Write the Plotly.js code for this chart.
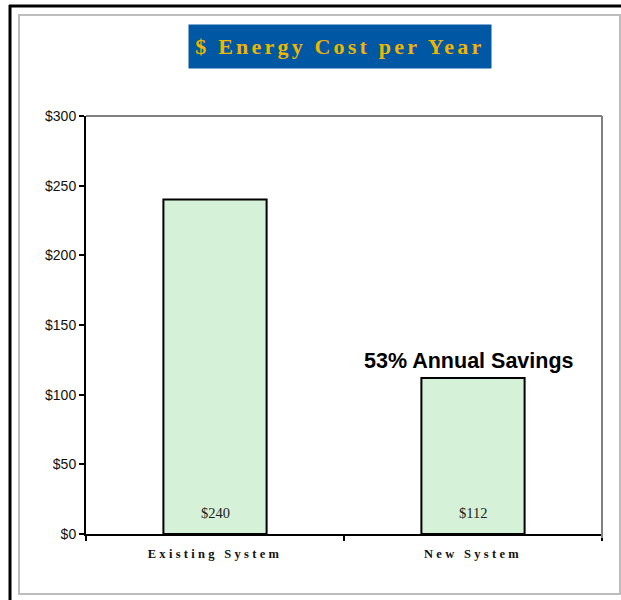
<!DOCTYPE html>
<html>
<head>
<meta charset="utf-8">
<script src="https://cdn.plot.ly/plotly-3.0.1.min.js"></script>
<style>
  html, body { margin: 0; padding: 0; background: #ffffff; }
  #chart { width: 621px; height: 600px; }
  .xtick text { letter-spacing: 3.3px; }
  g.annotation[data-index="0"] text { letter-spacing: 3.2px; }
</style>
</head>
<body>
<div id="chart"></div>
<script>
// ---- data ----
const categories = ["Existing System", "New System"];
const costs = [240, 112];
const barLabels = ["$240", "$112"];
const chartTitle = "$ Energy Cost per Year";
const savingsNote = "53% Annual Savings";
const yTickVals = [0, 50, 100, 150, 200, 250, 300];
const yTickText = ["$0", "$50", "$100", "$150", "$200", "$250", "$300"];

// ---- layout geometry (pixels) ----
const W = 621, H = 600;
const L = 86, R = 602, T = 116, B = 534;
const px = x => (x - L) / (R - L);
const py = y => (B - y) / (B - T);

const serif = "'Liberation Serif', 'Times New Roman', serif";
const sans = "'Liberation Sans', Arial, sans-serif";

const trace = {
  type: "bar",
  x: categories,
  y: costs,
  width: 0.4,
  marker: { color: "#d5f2d8", line: { color: "#000000", width: 2 } },
  hoverinfo: "skip",
  showlegend: false
};

const annotations = [
  {
    text: "<b>" + chartTitle + "</b>",
    xref: "paper", yref: "paper",
    x: px(340), y: py(46.5), xanchor: "center", yanchor: "middle",
    width: 300, height: 41, bgcolor: "#0058a4", borderpad: 1,
    showarrow: false,
    font: { family: serif, size: 22, color: "#efb500" }
  },
  {
    text: "<b>" + savingsNote + "</b>",
    xref: "x", yref: "y",
    x: categories[1], y: costs[1], xanchor: "center", yanchor: "middle",
    xshift: -4, yshift: 17,
    showarrow: false,
    font: { family: sans, size: 21.5, color: "#000000" }
  }
];
categories.forEach((c, i) => {
  annotations.push({
    text: barLabels[i],
    xref: "x", yref: "y",
    x: c, y: 0, xanchor: "center", yanchor: "middle",
    yshift: 21,
    showarrow: false,
    font: { family: serif, size: 14.5, color: "#222222" }
  });
});

const shapes = [
  // outer black frame (left and top)
  { type: "line", xref: "paper", yref: "paper", x0: px(10), x1: px(10), y0: py(5), y1: py(600), line: { color: "#000000", width: 3 } },
  { type: "line", xref: "paper", yref: "paper", x0: px(9), x1: px(621), y0: py(6), y1: py(6), line: { color: "#000000", width: 3 } },
  // light gray chart frame
  { type: "rect", xref: "paper", yref: "paper", x0: px(19), x1: px(620), y0: py(15), y1: py(594), line: { color: "#bdbdbd", width: 2 } },
  // plot area top / right border
  { type: "line", xref: "paper", yref: "paper", x0: px(86), x1: px(602), y0: 1, y1: 1, line: { color: "#808080", width: 2 }, layer: "above" },
  { type: "line", xref: "paper", yref: "paper", x0: 1, x1: 1, y0: py(538), y1: 1, line: { color: "#808080", width: 2 }, layer: "above" }
];

const layout = {
  width: W, height: H,
  margin: { l: L, r: W - R, t: T, b: H - B, pad: 0 },
  paper_bgcolor: "#ffffff",
  plot_bgcolor: "#ffffff",
  showlegend: false,
  bargap: 0.6,
  xaxis: {
    type: "category",
    showline: true, linecolor: "#000000", linewidth: 2,
    ticks: "outside", tickson: "boundaries", ticklen: 5, tickwidth: 2, tickcolor: "#000000",
    ticklabelstandoff: 7,
    showgrid: false, zeroline: false,
    tickfont: { family: serif, size: 12.5, color: "#111111", weight: "bold" },
    fixedrange: true
  },
  yaxis: {
    range: [0, 300],
    tickmode: "array", tickvals: yTickVals, ticktext: yTickText,
    showline: true, linecolor: "#000000", linewidth: 2,
    ticks: "outside", ticklen: 5, tickwidth: 2, tickcolor: "#000000",
    showgrid: false, zeroline: false,
    tickfont: { family: sans, size: 14, color: "#111111" },
    fixedrange: true
  },
  annotations: annotations,
  shapes: shapes
};

Plotly.newPlot("chart", [trace], layout, { displayModeBar: false, staticPlot: true });
</script>
</body>
</html>
